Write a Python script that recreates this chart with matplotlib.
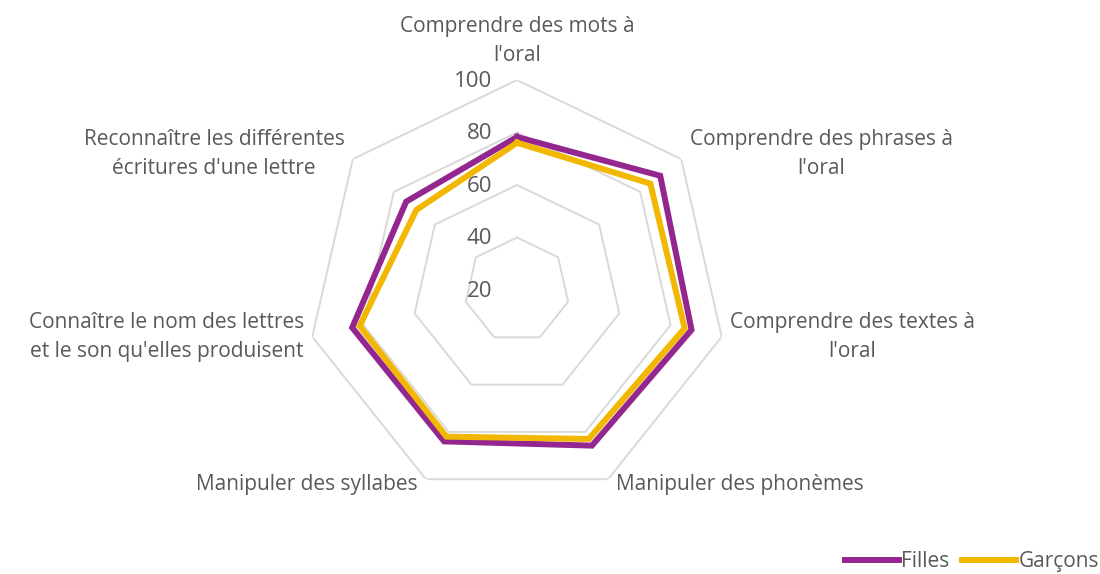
import numpy as np
import matplotlib.pyplot as plt

plt.rcParams['font.family'] = ['Open Sans', 'DejaVu Sans']

categories = [
    "Comprendre des mots à\nl'oral",
    "Comprendre des phrases à\nl'oral",
    "Comprendre des textes à\nl'oral",
    "Manipuler des phonèmes",
    "Manipuler des syllabes",
    "Connaître le nom des lettres\net le son qu'elles produisent",
    "Reconnaître les différentes\nécritures d'une lettre",
]
filles = [78.3, 89.8, 88.2, 85.8, 84.0, 84.4, 74.0]
garcons = [76.1, 85.0, 85.5, 83.0, 82.0, 81.5, 69.0]
rings = [20, 40, 60, 80, 100]

TEXT = '#595959'
GRID = '#d9d9d9'
PURPLE = '#93278f'
YELLOW = '#f2b700'


def closed(vals):
    return list(vals) + [vals[0]]


def main():
    n = len(categories)
    theta = np.arange(n) * 2 * np.pi / n
    th = closed(list(theta))

    fig = plt.figure(figsize=(11, 5.74), dpi=100)
    ax = fig.add_axes([0.2791, 0.1289, 0.3818, 0.7317], projection='polar')
    ax.set_theta_zero_location('N')
    ax.set_theta_direction(-1)
    ax.set_ylim(20, 100)
    ax.set_frame_on(False)
    ax.grid(False)
    ax.set_xticks([])
    ax.set_yticks([])

    # heptagon grid rings
    for r in rings[1:]:
        ax.plot(th, [r] * (n + 1), color=GRID, lw=1.4, zorder=1)
    for r in rings:
        ax.annotate(str(r), xy=(0, r), xytext=(-18, -1), textcoords='offset points',
                    ha='right', va='center', fontsize=16, color=TEXT)

    ax.plot(th, closed(filles), color=PURPLE, lw=4.3, label='Filles', zorder=3,
            solid_joinstyle='miter')
    ax.plot(th, closed(garcons), color=YELLOW, lw=4.3, label='Garçons', zorder=4,
            solid_joinstyle='miter')

    # category labels around the chart
    for t, lab in zip(theta, categories):
        s, c = np.sin(t), np.cos(t)
        if abs(s) < 0.1:
            ha, va, off = 'center', 'bottom', (0, 10)
        else:
            ha = 'left' if s > 0 else 'right'
            va = 'center'
            if c > 0.5:
                dy = 4
            elif c < -0.5:
                dy = -4
            else:
                dy = 0
            off = (6 * np.sign(s), dy)
        ax.annotate(lab, xy=(t, 100), xytext=off, textcoords='offset points',
                    ha=ha, va=va, fontsize=15, color=TEXT, linespacing=1.5,
                    multialignment='center', annotation_clip=False)

    fig.legend(loc='lower right', bbox_to_anchor=(1.016, -0.03), ncol=2, frameon=False,
               fontsize=15, labelcolor=TEXT, handlelength=2.6, handletextpad=0.1,
               columnspacing=0.6)

    fig.savefig('out.png', dpi=100)


if __name__ == '__main__':
    main()
